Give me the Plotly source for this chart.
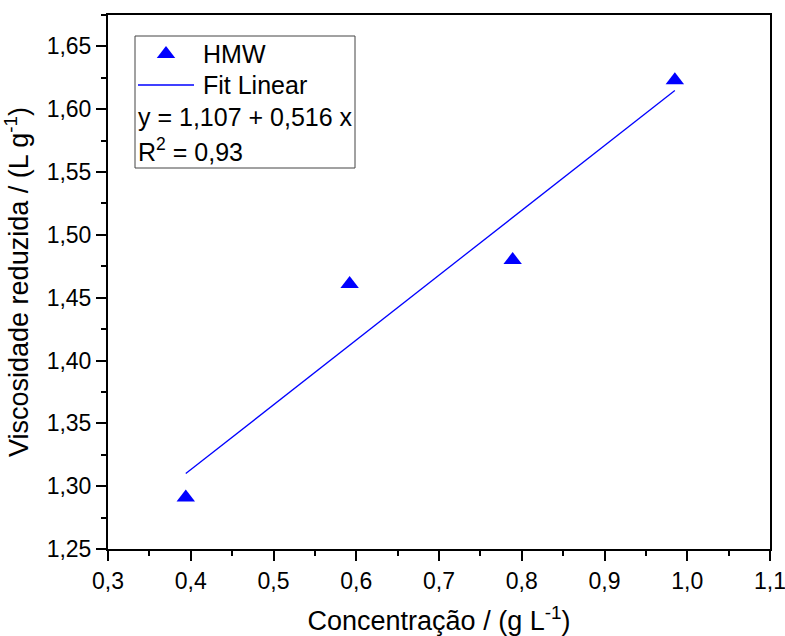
import plotly.graph_objects as go

# Data
conc = [0.394, 0.592, 0.789, 0.985]
visc = [1.291, 1.461, 1.480, 1.623]
fit_x = [0.394, 0.985]
fit_y = [1.310, 1.615]
series_name = "HMW"
fit_name = "Fit Linear"
eq_text = "y = 1,107 + 0,516 x"
r2_text = "R<sup>2</sup> = 0,93"
x_ticks = [0.3, 0.4, 0.5, 0.6, 0.7, 0.8, 0.9, 1.0, 1.1]
y_ticks = [1.25, 1.30, 1.35, 1.40, 1.45, 1.50, 1.55, 1.60, 1.65]

FONT = "Liberation Sans, Arial, sans-serif"
BLUE = "#0000ff"

fig = go.Figure()
fig.add_trace(go.Scatter(x=fit_x, y=fit_y, mode="lines",
                         line=dict(color=BLUE, width=1.3), showlegend=False))
fig.add_trace(go.Scatter(x=conc, y=visc, mode="markers",
                         marker=dict(symbol="triangle-up", size=16, color=BLUE,
                                     line=dict(width=0)), showlegend=False))

# legend drawn in a pixel-like overlay axis
fig.add_trace(go.Scatter(x=[166], y=[54], mode="markers", xaxis="x2", yaxis="y2",
                         marker=dict(symbol="triangle-up", size=16, color=BLUE,
                                     line=dict(width=0)), showlegend=False,
                         hoverinfo="skip"))

fig.add_shape(type="rect", xref="x2", yref="y2", x0=135, x1=355, y0=36, y1=168,
              line=dict(color="#444", width=1), fillcolor="rgba(0,0,0,0)")
fig.add_shape(type="line", xref="x2", yref="y2", x0=138, x1=194, y0=85, y1=85,
              line=dict(color=BLUE, width=1.3))
for txt, xx, yy in [(series_name, 201, 54), (fit_name, 201, 85),
                    (eq_text, 136, 117), (r2_text, 136, 150)]:
    fig.add_annotation(text=txt, xref="x2", yref="y2", x=xx, y=yy,
                       xanchor="left", yanchor="middle", showarrow=False,
                       font=dict(family=FONT, size=25, color="black"))

axis_common = dict(showgrid=False, zeroline=False, showline=True, mirror=True,
                   linecolor="black", linewidth=2, ticks="outside", ticklen=10,
                   tickwidth=2, tickcolor="black", automargin=False,
                   ticklabeloverflow="allow",
                   tickfont=dict(family=FONT, size=23, color="black"))

fig.update_layout(
    width=785, height=636,
    margin=dict(l=108, r=15, t=15, b=87),
    plot_bgcolor="white", paper_bgcolor="white",
    separators=",.",
    xaxis=dict(range=[0.3, 1.1], tickvals=x_ticks, tickformat=".1f",
               minor=dict(dtick=0.05, ticks="outside", ticklen=5, tickwidth=2,
                          tickcolor="black"),
               title=dict(text="Concentração / (g L<sup>-1</sup>)",
                          font=dict(family=FONT, size=27, color="black"),
                          standoff=20),
               **axis_common),
    yaxis=dict(range=[1.25, 1.675], tickvals=y_ticks, tickformat=".2f",
               minor=dict(dtick=0.025, ticks="outside", ticklen=5, tickwidth=2,
                          tickcolor="black"),
               title=dict(text="Viscosidade reduzida / (L g<sup>-1</sup>)",
                          font=dict(family=FONT, size=27, color="black"),
                          standoff=10),
               **axis_common),
    xaxis2=dict(overlaying="x", range=[108, 770], visible=False),
    yaxis2=dict(overlaying="y", range=[549, 15], visible=False),
    showlegend=False,
)

fig.write_html("out.html")
